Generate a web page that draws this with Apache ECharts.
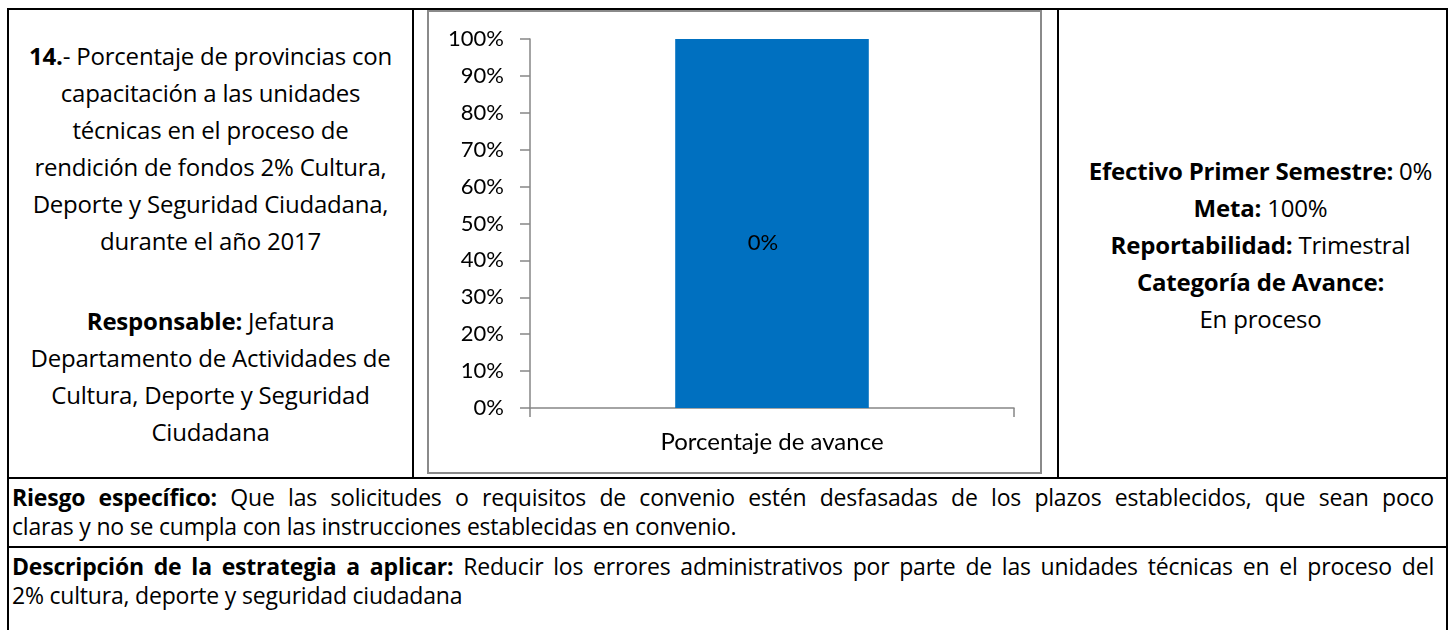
<!DOCTYPE html>
<html><head><meta charset="utf-8">
<script src="https://cdn.jsdelivr.net/npm/echarts/dist/echarts.min.js"></script>
<style>
html,body{margin:0;padding:0;background:#fff;width:1454px;height:630px;overflow:hidden;}
.ln{position:absolute;background:#000;}
.txt{position:absolute;font-family:"Open Sans",sans-serif;color:#000;white-space:nowrap;}
.c{text-align:center;font-size:24px;line-height:37px;letter-spacing:-0.2px;}
.j{text-align:justify;text-align-last:justify;}
.row{font-size:23px;line-height:29px;letter-spacing:-0.2px;}
b{font-weight:700;}
#box{position:absolute;left:427px;top:10px;width:615px;height:464px;border:2px solid #8a8a8a;box-sizing:border-box;}
#chart{position:absolute;left:429px;top:12px;width:611px;height:460px;}
</style></head>
<body>
<div class="ln" style="left:7px;top:8px;width:1441px;height:2px"></div>
<div class="ln" style="left:7px;top:8px;width:2px;height:622px"></div>
<div class="ln" style="left:1446px;top:8px;width:2px;height:622px"></div>
<div class="ln" style="left:412px;top:8px;width:2px;height:471px"></div>
<div class="ln" style="left:1057px;top:8px;width:2px;height:471px"></div>
<div class="ln" style="left:7px;top:477px;width:1441px;height:2px"></div>
<div class="ln" style="left:7px;top:546px;width:1441px;height:2px"></div>
<div id="box"></div>
<div id="chart"></div>

<div class="txt c" style="left:9px;top:37px;width:403px"><b>14.</b>- Porcentaje de provincias con<br>capacitación a las unidades<br>técnicas en el proceso de<br>rendición de fondos 2% Cultura,<br>Deporte y Seguridad Ciudadana,<br>durante el año 2017</div>
<div class="txt c" style="left:9px;top:302px;width:403px"><b>Responsable:</b> Jefatura<br>Departamento de Actividades de<br>Cultura, Deporte y Seguridad<br>Ciudadana</div>

<div class="txt c" style="left:1067px;top:152px;width:387px"><b>Efectivo Primer Semestre:</b> 0%<br><b>Meta:</b> 100%<br><b>Reportabilidad:</b> Trimestral<br><b>Categoría de Avance:</b><br>En proceso</div>

<div class="txt row j" style="left:12px;top:483px;width:1422px"><b>Riesgo específico:</b> Que las solicitudes o requisitos de convenio estén desfasadas de los plazos establecidos, que sean poco</div>
<div class="txt row" style="left:12px;top:512px;width:1422px">claras y no se cumpla con las instrucciones establecidas en convenio.</div>
<div class="txt row j" style="left:12px;top:552px;width:1422px"><b>Descripción de la estrategia a aplicar:</b> Reducir los errores administrativos por parte de las unidades técnicas en el proceso del</div>
<div class="txt row" style="left:12px;top:581px;width:1422px">2% cultura, deporte y seguridad ciudadana</div>

<script>
const categories = ['Porcentaje de avance'];
const values = [1.0];
const barLabels = ['0%'];
const yMin = 0, yMax = 1, yStep = 0.1;

const chart = echarts.init(document.getElementById('chart'), null, {renderer:'canvas'});
const axisColor = '#868686';
chart.setOption({
  animation:false,
  textStyle:{fontFamily:'Lato, sans-serif'},
  grid:{left:101, top:27, width:484, height:369, containLabel:false},
  xAxis:{
    type:'category', data:categories,
    axisLine:{show:true, lineStyle:{color:axisColor, width:1.5}},
    axisTick:{show:true, length:9, alignWithLabel:false, lineStyle:{color:axisColor, width:1.5}},
    axisLabel:{color:'#000', fontSize:24, margin:22, fontFamily:'Lato, sans-serif'},
    splitLine:{show:false}
  },
  yAxis:{
    type:'value', min:yMin, max:yMax, interval:yStep,
    axisLine:{show:true, lineStyle:{color:axisColor, width:1.5}},
    axisTick:{show:true, length:10, lineStyle:{color:axisColor, width:1.5}},
    axisLabel:{color:'#000', fontSize:22, margin:26, fontFamily:'Lato, sans-serif',
      formatter:v => Math.round(v*100) + '%'},
    splitLine:{show:false}
  },
  series:[{
    type:'bar', data:values, barWidth:'40%',
    itemStyle:{color:'#0070C0'},
    label:{show:true, position:'inside', offset:[-9,19], color:'#000', fontSize:22,
      fontFamily:'Lato, sans-serif', formatter:p => barLabels[p.dataIndex]}
  }]
});
</script>
</body></html>
